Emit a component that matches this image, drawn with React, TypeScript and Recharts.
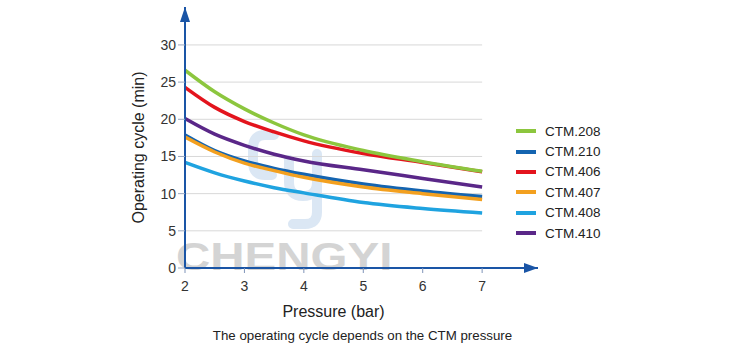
import React from 'react';
import {
  LineChart,
  Line,
  XAxis,
  YAxis,
  ReferenceLine,
  ReferenceDot,
} from 'recharts';

// pressure (bar) sample points
const pressure = [2, 2.5, 3, 3.5, 4, 5, 6, 7];

// operating cycle (min) per CTM model
const ctm208 = [26.6, 23.7, 21.4, 19.5, 17.9, 15.8, 14.3, 13.0];
const ctm210 = [17.9, 15.8, 14.4, 13.4, 12.6, 11.3, 10.35, 9.6];
const ctm406 = [24.3, 21.6, 19.7, 18.3, 17.1, 15.4, 14.2, 12.95];
const ctm407 = [17.6, 15.6, 14.1, 13.1, 12.2, 10.9, 10.0, 9.2];
const ctm408 = [14.2, 12.8, 11.7, 10.8, 10.1, 8.8, 8.0, 7.4];
const ctm410 = [20.1, 18.0, 16.5, 15.3, 14.4, 13.2, 12.05, 10.9];

const xTicks = [2, 3, 4, 5, 6, 7];
const yTicks = [0, 5, 10, 15, 20, 25, 30];
const gridValues = [5, 10, 15, 20, 25, 30];

const series = [
  { key: 'ctm208', name: 'CTM.208', color: '#8cc63e', values: ctm208 },
  { key: 'ctm210', name: 'CTM.210', color: '#1464b0', values: ctm210 },
  { key: 'ctm406', name: 'CTM.406', color: '#e3141d', values: ctm406 },
  { key: 'ctm407', name: 'CTM.407', color: '#f3a01f', values: ctm407 },
  { key: 'ctm408', name: 'CTM.408', color: '#1fa3e0', values: ctm408 },
  { key: 'ctm410', name: 'CTM.410', color: '#5a2788', values: ctm410 },
];

// paint order (last on top)
const drawOrder = ['ctm408', 'ctm410', 'ctm210', 'ctm407', 'ctm406', 'ctm208'];

const data = pressure.map((p, i) => {
  const row: Record<string, number> = { p };
  series.forEach((s) => {
    row[s.key] = s.values[i];
  });
  return row;
});

const FONT = '"Liberation Sans", Arial, sans-serif';
const AXIS = '#1a55a6';
const X_MAX = 7.94;
const Y_MAX = 35.1;

const ArrowRight = (props: any) => {
  const { cx, cy } = props;
  return (
    <polygon
      points={`${cx},${cy} ${cx - 14},${cy - 5} ${cx - 14},${cy + 5}`}
      fill={AXIS}
    />
  );
};

const ArrowUp = (props: any) => {
  const { cx, cy } = props;
  return (
    <polygon
      points={`${cx},${cy} ${cx - 5},${cy + 15} ${cx + 5},${cy + 15}`}
      fill={AXIS}
    />
  );
};

export default function App() {
  return (
    <div
      style={{
        position: 'absolute',
        left: 0,
        top: 0,
        width: 750,
        height: 360,
        background: '#fff',
        fontFamily: FONT,
      }}
    >
      {/* watermark logo */}
      <svg
        width={750}
        height={360}
        style={{ position: 'absolute', left: 0, top: 0 }}
      >
        <g
          fill="none"
          stroke="#dbe7f4"
          strokeWidth={10}
          strokeLinecap="round"
          strokeLinejoin="round"
        >
          <path d="M 274 135 L 265 135 Q 253 135 253 148 L 253 162 Q 253 175 265 175 L 272 175" />
          <path d="M 289 160 L 289 182 Q 289 196 303 196 Q 317 196 317 182" />
          <path d="M 317 154 L 317 212 Q 317 224 305 224 L 293 224" />
        </g>
      </svg>
      <div
        style={{
          position: 'absolute',
          left: 176,
          top: 238,
          fontSize: 38,
          fontWeight: 'bold',
          color: '#d4d4d4',
          fontFamily: FONT,
          lineHeight: 1,
          transform: 'scaleX(1.25)',
          transformOrigin: 'left top',
          whiteSpace: 'nowrap',
        }}
      >
        CHENGYI
      </div>

      <div style={{ position: 'absolute', left: 0, top: 0 }}>
        <LineChart
          width={750}
          height={360}
          data={data}
          margin={{ top: 7, right: 212, bottom: 62, left: 125 }}
        >
          <XAxis
            dataKey="p"
            type="number"
            domain={[2, X_MAX]}
            ticks={xTicks}
            allowDataOverflow
            axisLine={{ stroke: AXIS, strokeWidth: 2 }}
            tickLine={{ stroke: '#7f93b8' }}
            tickSize={5}
            tickMargin={8}
            tick={{ fontSize: 14, fill: '#333', fontFamily: FONT }}
            height={30}
            label={{
              value: 'Pressure (bar)',
              position: 'insideBottom',
              dx: -28,
              offset: -19,
              style: { fontSize: 16, fill: '#222', fontFamily: FONT },
            }}
          />
          <YAxis
            type="number"
            domain={[0, Y_MAX]}
            ticks={yTicks}
            allowDataOverflow
            width={60}
            axisLine={{ stroke: AXIS, strokeWidth: 2 }}
            tickLine={{ stroke: '#9aa8c0' }}
            tickSize={7}
            tick={{ fontSize: 14, fill: '#333', fontFamily: FONT }}
            label={{
              value: 'Operating cycle (min)',
              angle: -90,
              position: 'insideLeft',
              dx: 8,
              dy: 10,
              style: {
                fontSize: 16,
                fill: '#222',
                fontFamily: FONT,
                textAnchor: 'middle',
              },
            }}
          />
          {gridValues.map((v) => (
            <ReferenceLine
              key={v}
              segment={[
                { x: 2, y: v },
                { x: 7, y: v },
              ]}
              stroke="#d8d8d8"
              strokeWidth={1}
            />
          ))}
          {drawOrder.map((k) => {
            const s = series.find((x) => x.key === k)!;
            return (
              <Line
                key={s.key}
                type="monotone"
                dataKey={s.key}
                name={s.name}
                stroke={s.color}
                strokeWidth={3.5}
                dot={false}
                isAnimationActive={false}
              />
            );
          })}
          <ReferenceDot
            x={X_MAX}
            y={0}
            r={1}
            ifOverflow="visible"
            shape={ArrowRight}
          />
          <ReferenceDot
            x={2}
            y={Y_MAX}
            r={1}
            ifOverflow="visible"
            shape={ArrowUp}
          />
        </LineChart>
      </div>

      {/* legend */}
      <div style={{ position: 'absolute', left: 516, top: 121 }}>
        {series.map((s) => (
          <div
            key={s.key}
            style={{ display: 'flex', alignItems: 'center', height: 20.4 }}
          >
            <span
              style={{
                display: 'inline-block',
                width: 20,
                height: 4,
                background: s.color,
                marginRight: 9,
              }}
            />
            <span style={{ fontSize: 13.5, color: '#222' }}>{s.name}</span>
          </div>
        ))}
      </div>

      <div
        style={{
          position: 'absolute',
          left: 0,
          width: 725,
          top: 328,
          textAlign: 'center',
          fontSize: 13.3,
          color: '#222',
        }}
      >
        The operating cycle depends on the CTM pressure
      </div>
    </div>
  );
}
